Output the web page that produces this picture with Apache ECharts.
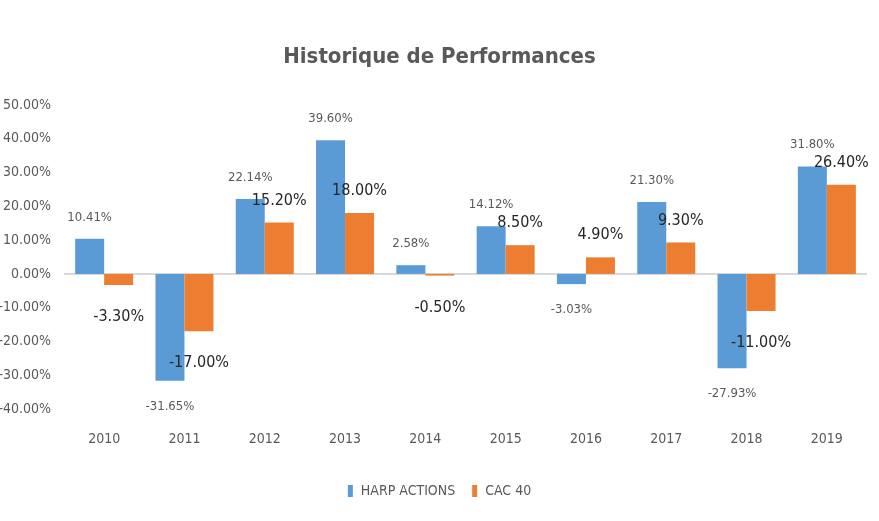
<!DOCTYPE html>
<html>
<head>
<meta charset="utf-8">
<script src="https://cdn.jsdelivr.net/npm/echarts@6/dist/echarts.min.js"></script>
<style>
	html, body { margin: 0; padding: 0; background: #fff; }
	#chart { width: 879px; height: 521px; }
</style>
</head>
<body>
<div id="chart"></div>
<script>
const years = ['2010', '2011', '2012', '2013', '2014', '2015', '2016', '2017', '2018', '2019']
const harpActions = [10.41, -31.65, 22.14, 39.6, 2.58, 14.12, -3.03, 21.3, -27.93, 31.8]
const cac40 = [-3.3, -17.0, 15.2, 18.0, -0.5, 8.5, 4.9, 9.3, -11.0, 26.4]
const seriesNames = ['HARP ACTIONS', 'CAC 40']

const font = '"DejaVu Sans Condensed", "DejaVu Sans", sans-serif'
const pct = v => v.toFixed(2) + '%'

// labels above positive bars, below negative ones (Excel "outside end")
function withLabels(values, upDist, downDist) {
	return values.map(v => ({
		value: v,
		label: {
			position: v >= 0 ? 'top' : 'bottom',
			distance: v >= 0 ? upDist : downDist,
		},
	}))
}

const chart = echarts.init(document.getElementById('chart'))

chart.setOption({
	backgroundColor: '#fff',
	animation: false,
	title: {
		text: 'Historique de Performances',
		left: 'center',
		top: 41,
		textStyle: {
			fontFamily: font,
			fontSize: 22,
			fontWeight: 'bold',
			color: '#595959',
		},
	},
	legend: {
		data: seriesNames,
		bottom: 18,
		left: 'center',
		icon: 'rect',
		itemWidth: 5,
		itemHeight: 12,
		itemGap: 17,
		textStyle: {
			fontFamily: font,
			fontSize: 14,
			color: '#595959',
			padding: [0, 0, 0, 3],
		},
	},
	grid: {
		left: 64,
		right: 12,
		top: 105,
		bottom: 112,
		containLabel: false,
		outerBoundsMode: 'none',
	},
	xAxis: {
		type: 'category',
		data: years,
		axisLine: { show: false, onZero: false },
		axisTick: { show: false },
		axisLabel: {
			margin: 23,
			fontFamily: font,
			fontSize: 14,
			color: '#595959',
		},
	},
	yAxis: {
		type: 'value',
		min: -40,
		max: 50,
		interval: 10,
		axisLine: { show: false },
		axisTick: { show: false },
		splitLine: { show: false },
		axisLabel: {
			margin: 13,
			fontFamily: font,
			fontSize: 14,
			color: '#595959',
			formatter: v => pct(v),
		},
	},
	series: [
		{
			name: seriesNames[0],
			type: 'bar',
			data: withLabels(harpActions, 15, 19),
			barWidth: 29,
			barGap: '0%',
			itemStyle: { color: '#5b9bd5' },
			label: {
				show: true,
				fontFamily: font,
				fontSize: 13,
				color: '#595959',
				formatter: p => pct(p.value),
			},
			markLine: {
				silent: true,
				symbol: 'none',
				label: { show: false },
				lineStyle: { color: '#d9d9d9', width: 2, type: 'solid' },
				data: [{ yAxis: 0 }],
				z: 1,
			},
		},
		{
			name: seriesNames[1],
			type: 'bar',
			data: withLabels(cac40, 14, 24),
			barWidth: 29,
			itemStyle: { color: '#ed7d31' },
			label: {
				show: true,
				fontFamily: font,
				fontSize: 16,
				color: '#262626',
				formatter: p => pct(p.value),
			},
		},
	],
})
</script>
</body>
</html>
